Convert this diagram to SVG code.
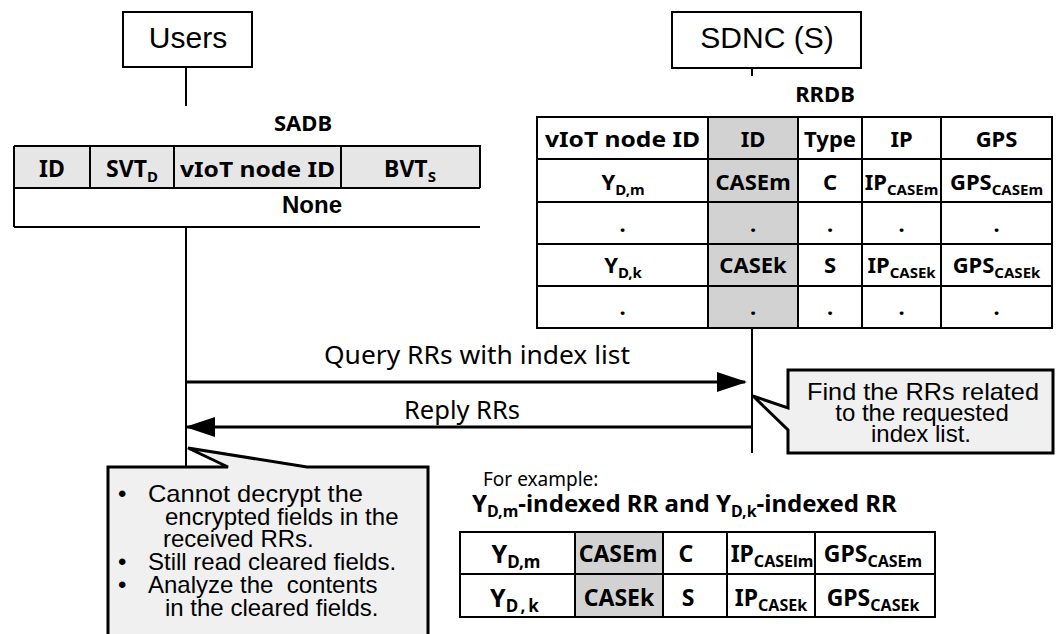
<svg xmlns="http://www.w3.org/2000/svg" width="1059" height="634" viewBox="0 0 1059 634">
<defs>
<style>
.box{fill:#fff;stroke:#000;stroke-width:2}
.ln{stroke:#000;stroke-width:2;fill:none}
.arr{stroke:#000;stroke-width:3;fill:none}
.cell{stroke:#000;stroke-width:2;fill:none}
.hdr{fill:#e6e6e6}
.gray{fill:#d3d2d3}
.callout{fill:#f0f0f0;stroke:#000;stroke-width:3;stroke-linejoin:miter}
.big{font-family:"Liberation Sans",Arial,sans-serif;font-size:30px;text-anchor:middle}
.tb{font-family:"Noto Sans","Liberation Sans",sans-serif;font-weight:bold;font-size:22px;text-anchor:middle}
.sub{font-size:15px}
.lbl{font-family:"Noto Sans","Liberation Sans",sans-serif;font-size:25px;text-anchor:middle}
.co{font-family:"Liberation Sans",Arial,sans-serif;font-size:24px;white-space:pre}
</style>
<marker id="ah" markerUnits="userSpaceOnUse" markerWidth="30" markerHeight="20" refX="28" refY="10" orient="auto">
<path d="M0,0 L30,10 L0,20 z" fill="#000"/>
</marker>
</defs>

<g id="users">
<rect class="box" x="123" y="12" width="129" height="55"/>
<text class="big" x="188" y="48">Users</text>
</g>

<g id="sdnc">
<rect class="box" x="672" y="12" width="189" height="56"/>
<text class="big" x="767" y="48">SDNC (S)</text>
</g>

<g id="sadb">
<text class="tb" x="303" y="131">SADB</text>
<rect class="hdr" x="14" y="146" width="466" height="42"/>
<path class="cell" d="M14,146 H480 V188 M14,188 H480 M14,227 H480 M14,146 V227 M90,146 V188 M174,146 V188 M341,146 V188"/>
<text class="tb" x="52" y="177" style="font-size:23px">ID</text>
<text class="tb" x="132" y="177" style="font-size:23px">SVT<tspan class="sub" dy="5">D</tspan></text>
<text class="tb" x="257.5" y="177" textLength="155" lengthAdjust="spacingAndGlyphs">vIoT  node ID</text>
<text class="tb" x="410" y="177" style="font-size:23px">BVT<tspan class="sub" dy="5">S</tspan></text>
<text x="312" y="213" style="font-family:'Liberation Sans',Arial,sans-serif;font-weight:bold;font-size:24px;text-anchor:middle">None</text>
</g>

<g id="rrdb">
<text class="tb" x="825" y="102">RRDB</text>
<rect class="gray" x="708" y="117" width="90" height="211"/>
<path class="cell" d="M537,117 H1052 V328 H537 Z M537,159 H1052 M537,202 H1052 M537,244 H1052 M537,286 H1052 M708,117 V328 M798,117 V328 M862,117 V328 M941,117 V328"/>
<text class="tb" x="622.5" y="147" textLength="155" lengthAdjust="spacingAndGlyphs">vIoT  node ID</text>
<text class="tb" x="753" y="147">ID</text>
<text class="tb" x="830" y="147">Type</text>
<text class="tb" x="901.5" y="147">IP</text>
<text class="tb" x="996.5" y="147">GPS</text>
<text class="tb" x="623" y="190">Y<tspan class="sub" dy="5">D,m</tspan></text>
<text class="tb" x="753" y="190">CASEm</text>
<text class="tb" x="830" y="190">C</text>
<text class="tb" x="901.5" y="190">IP<tspan class="sub" dy="5">CASEm</tspan></text>
<text class="tb" x="996.5" y="190">GPS<tspan class="sub" dy="5">CASEm</tspan></text>
<text class="tb" x="622.5" y="232">.</text>
<text class="tb" x="753" y="232">.</text>
<text class="tb" x="830" y="232">.</text>
<text class="tb" x="901.5" y="232">.</text>
<text class="tb" x="996.5" y="232">.</text>
<text class="tb" x="623" y="273">Y<tspan class="sub" dy="5">D,k</tspan></text>
<text class="tb" x="753" y="273">CASEk</text>
<text class="tb" x="830" y="273">S</text>
<text class="tb" x="901.5" y="273">IP<tspan class="sub" dy="5">CASEk</tspan></text>
<text class="tb" x="996.5" y="273">GPS<tspan class="sub" dy="5">CASEk</tspan></text>
<text class="tb" x="622.5" y="315">.</text>
<text class="tb" x="753" y="315">.</text>
<text class="tb" x="830" y="315">.</text>
<text class="tb" x="901.5" y="315">.</text>
<text class="tb" x="996.5" y="315">.</text>
</g>

<g id="connectors">
<line class="ln" x1="186" y1="67" x2="186" y2="106"/>
<line class="ln" x1="186" y1="227" x2="186" y2="466"/>
<line class="ln" x1="752" y1="68" x2="752" y2="76"/>
<line class="ln" x1="752" y1="328" x2="752" y2="453"/>
<line class="arr" x1="187" y1="382" x2="745" y2="382" marker-end="url(#ah)"/>
<line class="arr" x1="751" y1="427" x2="187" y2="427" marker-end="url(#ah)"/>
<text class="lbl" x="477" y="364" textLength="306" lengthAdjust="spacingAndGlyphs">Query RRs with index list</text>
<text class="lbl" x="462" y="419" textLength="116" lengthAdjust="spacingAndGlyphs">Reply RRs</text>
</g>

<g id="callout-sdnc">
<path class="callout" d="M788,370 H1053 V453 H788 V430 L753,396 L788,408 Z"/>
<text class="co" x="923" y="400" text-anchor="middle" textLength="232" lengthAdjust="spacingAndGlyphs">Find the RRs related</text>
<text class="co" x="922" y="421" text-anchor="middle">to the requested</text>
<text class="co" x="921" y="442" text-anchor="middle">index list.</text>
</g>

<g id="callout-users">
<path class="callout" d="M108,640 V467 H228 L188,448 L307,467 H428 V640"/>
<text class="co" x="118" y="502">•</text>
<text class="co" x="148" y="502" textLength="215" lengthAdjust="spacingAndGlyphs">Cannot decrypt the</text>
<text class="co" x="165" y="525">encrypted fields in the</text>
<text class="co" x="163" y="547">received RRs.</text>
<text class="co" x="118" y="570">•</text>
<text class="co" x="148" y="570">Still read cleared fields.</text>
<text class="co" x="118" y="593">•</text>
<text class="co" x="148" y="593">Analyze the  contents</text>
<text class="co" x="165" y="616">in the cleared fields.</text>
</g>

<g id="example">
<text x="483" y="486" style="font-family:'Noto Sans','Liberation Sans',sans-serif;font-size:19px">For example:</text>
<text x="472" y="512" style="font-family:'Noto Sans','Liberation Sans',sans-serif;font-weight:bold;font-size:24px">Y<tspan style="font-size:16px" dy="5">D,m</tspan><tspan dy="-5">-indexed RR and Y</tspan><tspan style="font-size:16px" dy="5">D,k</tspan><tspan dy="-5">-indexed RR</tspan></text>
<rect class="gray" x="575" y="532" width="88" height="85"/>
<path class="cell" d="M460,532 H935 V617 H460 Z M460,574 H935 M575,532 V617 M663,532 V617 M727,532 V617 M815,532 V617"/>
<text class="tb" x="516" y="563" style="font-size:25px">Y<tspan style="font-size:17px" dy="5">D,m</tspan></text>
<text class="tb" x="618" y="562" style="font-size:23px">CASEm</text>
<text class="tb" x="686" y="562" style="font-size:23px">C</text>
<text class="tb" x="772" y="562" style="font-size:23px">IP<tspan style="font-size:16px" dy="5">CASElm</tspan></text>
<text class="tb" x="873" y="562" style="font-size:23px">GPS<tspan style="font-size:16px" dy="5">CASEm</tspan></text>
<text class="tb" x="516" y="607" style="font-size:25px">Y<tspan style="font-size:17px;letter-spacing:3px" dy="5">D,k</tspan></text>
<text class="tb" x="619" y="606" style="font-size:23px">CASEk</text>
<text class="tb" x="688" y="606" style="font-size:23px">S</text>
<text class="tb" x="771" y="606" style="font-size:23px">IP<tspan style="font-size:16px" dy="5">CASEk</tspan></text>
<text class="tb" x="873" y="606" style="font-size:23px">GPS<tspan style="font-size:16px" dy="5">CASEk</tspan></text>
</g>
</svg>
